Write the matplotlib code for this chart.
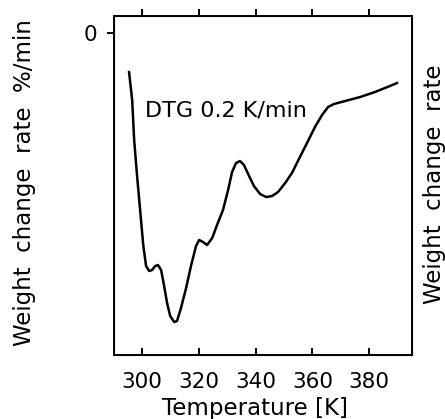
import matplotlib
matplotlib.use("Agg")
import matplotlib.pyplot as plt

# DTG curve (temperature in K, rate in arbitrary %/min units)
temperature = [
    295.4, 296.5, 297.2, 298.2, 299.3, 300.4, 301.4, 302.5, 303.5, 304.6,
    305.6, 306.7, 307.7, 308.8, 309.9, 311.3, 312.3, 313.7, 315.5, 317.3,
    319.0, 320.1, 321.5, 322.9, 324.7, 326.4, 328.5, 330.3, 331.7, 333.1,
    334.5, 335.9, 337.7, 339.4, 341.6, 343.7, 345.8, 347.9, 350.4, 352.8,
    355.6, 358.1, 360.9, 363.4, 365.5, 367.6, 371.5, 376.8, 382.0, 387.3,
    389.8,
]
rate = [
    -0.39, -0.67, -1.07, -1.42, -1.77, -2.12, -2.33, -2.38, -2.37, -2.33,
    -2.32, -2.37, -2.52, -2.70, -2.83, -2.89, -2.88, -2.75, -2.55, -2.32,
    -2.13, -2.07, -2.09, -2.12, -2.05, -1.92, -1.77, -1.57, -1.39, -1.30,
    -1.28, -1.32, -1.43, -1.53, -1.61, -1.64, -1.63, -1.59, -1.50, -1.40,
    -1.24, -1.10, -0.94, -0.82, -0.74, -0.71, -0.68, -0.64, -0.59, -0.53,
    -0.50,
]
x_ticks = [300, 320, 340, 360, 380]
y_ticks = [0]

fig = plt.figure(figsize=(4.45, 4.19), dpi=100)
ax = fig.add_axes([0.2562, 0.1527, 0.669, 0.809])

ax.plot(temperature, rate, color="black", lw=1.8)
ax.set_xlim(290.1, 395.0)
ax.set_ylim(-3.22, 0.17)

for side in ax.spines.values():
    side.set_linewidth(1.4)

ax.set_xticks(x_ticks)
ax.set_xticklabels([str(t) for t in x_ticks], fontsize=15.5)
ax.tick_params(axis="x", direction="in", length=5, width=1.4, pad=12)
ax.set_yticks(y_ticks)
ax.set_yticklabels(["0"], fontsize=15.5)
ax.tick_params(axis="y", direction="out", length=5, width=1.4, pad=7)

top = ax.twiny()
top.set_xlim(ax.get_xlim())
top.set_xticks(x_ticks)
top.set_xticklabels([])
top.tick_params(axis="x", direction="out", length=5, width=1.4)

ax.set_xlabel("Temperature [K]", fontsize=16.5, labelpad=4)
ax.xaxis.set_label_coords(0.475, -0.125)
fig.text(0.056, 0.565, "Weight  change  rate  %/min", rotation=90,
         ha="center", va="center", fontsize=16.5)
fig.text(0.976, 0.56, "Weight  change  rate", rotation=90,
         ha="center", va="center", fontsize=16.5)
ax.text(301.0, -0.77, "DTG 0.2 K/min", fontsize=16, va="center", ha="left")

fig.savefig("out.png", dpi=100)
